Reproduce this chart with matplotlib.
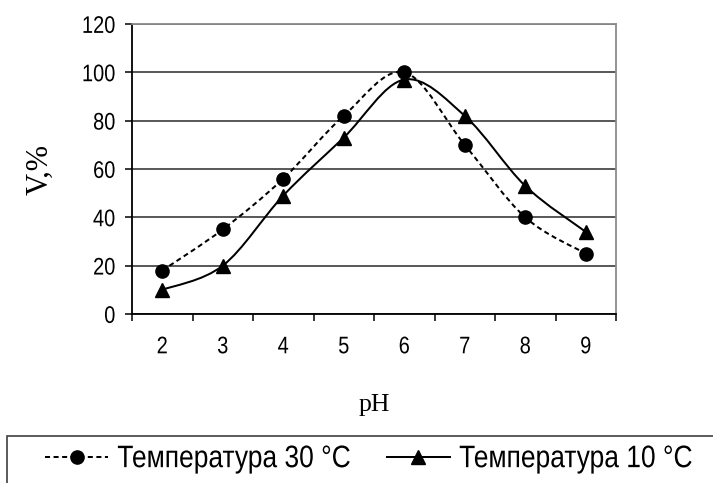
import matplotlib
matplotlib.use("Agg")
import matplotlib.pyplot as plt
from matplotlib.path import Path
from matplotlib.patches import PathPatch, Rectangle
from matplotlib.lines import Line2D
from matplotlib.patheffects import AbstractPathEffect
from matplotlib.transforms import Affine2D
import numpy as np

# ---- data ----
ph_values = [2, 3, 4, 5, 6, 7, 8, 9]
temp30 = [18, 35, 56, 82, 100, 70, 40, 25]
temp10 = [10, 20, 49, 73, 97, 82, 53, 34]
series_labels = ["Температура 30 °C", "Температура 10 °C"]
y_ticks = [0, 20, 40, 60, 80, 100, 120]
x_label = "pH"
y_label = "V,%"

sans = "Liberation Sans"
serif = "Liberation Serif"


class VStretch(AbstractPathEffect):
    """Stretch glyphs vertically about their centre (reference text is tall)."""

    def __init__(self, sy):
        super().__init__()
        self.sy = sy

    def draw_path(self, renderer, gc, tpath, affine, rgbFace=None):
        ext = tpath.get_extents(affine)
        cy = 0.5 * (ext.y0 + ext.y1)
        t = affine + Affine2D().translate(0, -cy).scale(1, self.sy).translate(0, cy)
        renderer.draw_path(gc, tpath, t, rgbFace)


W, H = 713, 483
fig = plt.figure(figsize=(W / 100, H / 100), dpi=100)
ax = fig.add_axes([132 / W, 1 - 314 / H, (616 - 132) / W, (314 - 24) / H])


def smooth_path(xs, ys):
    """Excel-like smoothed line: cubic Bezier through the data points."""
    pts = np.column_stack([xs, ys]).astype(float)
    n = len(pts)
    verts = [pts[0]]
    codes = [Path.MOVETO]
    for i in range(n - 1):
        p0 = pts[i - 1] if i > 0 else pts[i]
        p1 = pts[i]
        p2 = pts[i + 1]
        p3 = pts[i + 2] if i + 2 < n else pts[i + 1]
        c1 = p1 + (p2 - p0) / 6.0
        c2 = p2 - (p3 - p1) / 6.0
        verts += [c1, c2, p2]
        codes += [Path.CURVE4] * 3
    return Path(verts, codes)


ax.set_xlim(1.5, 9.5)
ax.set_ylim(0, 120)

ax.set_yticks(y_ticks)
ax.yaxis.grid(True, color="#2a2a2a", lw=1.1)
ax.set_axisbelow(True)

lw = 1.45
dash = (0, (2.5, 1.75))
p30 = PathPatch(smooth_path(ph_values, temp30), fill=False, ec="black",
                lw=lw, linestyle=dash, zorder=3)
p10 = PathPatch(smooth_path(ph_values, temp10), fill=False, ec="black",
                lw=lw, zorder=3)
ax.add_patch(p30)
ax.add_patch(p10)
ms = 9.5
ax.plot(ph_values, temp30, ls="none", marker="o", ms=ms, color="black", zorder=4)
ax.plot(ph_values, temp10, ls="none", marker="^", ms=ms, color="black", zorder=4)

ax.set_xticks(ph_values)
ax.set_xticklabels([str(v) for v in ph_values])
ax.set_xticks(np.arange(1.5, 10.0, 1.0), minor=True)
ax.tick_params(axis="x", which="major", length=0, pad=16.5, labelsize=14.4)
ax.tick_params(axis="x", which="minor", length=5, width=1.1, direction="out")
ax.tick_params(axis="y", which="major", length=5, width=1.1, direction="out",
               pad=7, labelsize=14.4)
stretch_ticks = VStretch(1.2)
for lab in ax.get_xticklabels() + ax.get_yticklabels():
    lab.set_family(sans)
    lab.set_path_effects([stretch_ticks])

for s in ["left", "bottom"]:
    ax.spines[s].set_color("black")
    ax.spines[s].set_linewidth(1.3)
for s in ["top", "right"]:
    ax.spines[s].set_color("#8a8a8a")
    ax.spines[s].set_linewidth(1.3)

ax.set_xlabel(x_label, family=serif, fontsize=18.5, va="center", ha="center")
ax.xaxis.set_label_coords(0.5, (314 - 405) / 290)
ax.set_ylabel(y_label, family=serif, fontsize=22, va="center", ha="center")
ax.yaxis.set_label_coords((40 - 132) / 484, 0.497)

# legend box
fig.patches.append(Rectangle((7 / W, -0.1), 1.2, 0.1 + (1 - 436 / H),
                             transform=fig.transFigure, fill=False,
                             ec="#404040", lw=1.2))
h30 = Line2D([], [], color="black", lw=lw, linestyle=dash, marker="o", ms=ms)
h10 = Line2D([], [], color="black", lw=lw, marker="^", ms=ms)
leg = fig.legend([h30, h10], series_labels, loc="center left",
                 bbox_to_anchor=(45 / W, 1 - 459 / H), ncol=2, frameon=False,
                 prop={"family": sans, "size": 19}, handlelength=2.4,
                 handletextpad=0.34, columnspacing=1.36, borderpad=0,
                 borderaxespad=0, numpoints=1)
stretch_leg = VStretch(1.18)
for t in leg.get_texts():
    t.set_path_effects([stretch_leg])

fig.savefig("out.png", dpi=100)
